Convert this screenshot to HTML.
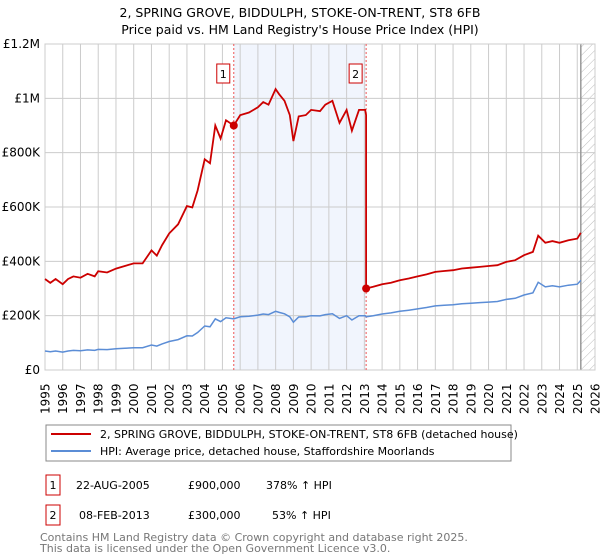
<!DOCTYPE html>
<html><head><meta charset="utf-8"><style>
body{margin:0;background:#fff;font-family:"DejaVu Sans","Liberation Sans",sans-serif;}
svg{display:block}
</style></head><body>
<svg id="chart" width="600" height="560" xmlns="http://www.w3.org/2000/svg" font-family="DejaVu Sans, Liberation Sans, sans-serif">
<text x="300" y="17" text-anchor="middle" font-size="12.5" fill="#000">2, SPRING GROVE, BIDDULPH, STOKE-ON-TRENT, ST8 6FB</text>
<text x="300" y="34" text-anchor="middle" font-size="12.5" fill="#000">Price paid vs. HM Land Registry's House Price Index (HPI)</text>
<defs><pattern id="hatch" width="6" height="6" patternUnits="userSpaceOnUse" patternTransform="rotate(45)"><line x1="0" y1="0" x2="0" y2="6" stroke="#bbb" stroke-width="1"/></pattern></defs>
<g id="plot"></g>
<g>
<rect x="46" y="425" width="465" height="36" fill="#fff" stroke="#888"/>
<line x1="51" y1="434" x2="91" y2="434" stroke="#cc0000" stroke-width="2"/>
<text x="100" y="438" font-size="11">2, SPRING GROVE, BIDDULPH, STOKE-ON-TRENT, ST8 6FB (detached house)</text>
<line x1="51" y1="451" x2="91" y2="451" stroke="#5b8dd6" stroke-width="2"/>
<text x="100" y="455" font-size="11">HPI: Average price, detached house, Staffordshire Moorlands</text>
</g>
<g font-size="11">
<rect x="46" y="475" width="14" height="20" fill="#fff" stroke="#cc0000"/>
<text x="53" y="489" text-anchor="middle">1</text>
<text x="76" y="489">22-AUG-2005</text>
<text x="188" y="489">£900,000</text>
<text x="266" y="489">378% ↑ HPI</text>
<rect x="46" y="505" width="14" height="20" fill="#fff" stroke="#cc0000"/>
<text x="53" y="519" text-anchor="middle">2</text>
<text x="79" y="519">08-FEB-2013</text>
<text x="188" y="519">£300,000</text>
<text x="272" y="519">53% ↑ HPI</text>
</g>
<text x="40" y="541" font-size="11" fill="#777">Contains HM Land Registry data © Crown copyright and database right 2025.</text>
<text x="40" y="552" font-size="11" fill="#777">This data is licensed under the Open Government Licence v3.0.</text>
</svg>
<script>
const hpiDates=[1995,1995.3,1995.6,1996,1996.3,1996.6,1997,1997.4,1997.8,1998,1998.5,1999,1999.5,2000,2000.5,2001,2001.3,2001.6,2002,2002.5,2003,2003.3,2003.6,2004,2004.3,2004.6,2004.9,2005.2,2005.64,2006,2006.5,2007,2007.3,2007.6,2008,2008.2,2008.5,2008.8,2009.0,2009.3,2009.7,2010,2010.5,2010.8,2011.2,2011.6,2012,2012.3,2012.7,2013.05,2013.1,2013.5,2014,2014.5,2015,2015.5,2016,2016.5,2017,2017.5,2018,2018.5,2019,2019.5,2020,2020.5,2021,2021.5,2022,2022.5,2022.8,2023.2,2023.6,2024,2024.5,2025,2025.2];
const hpiValues=[70,67,70,66,70,72,71,74,72,76,75,78,80,82,82,92,88,96,105,112,126,125,138,162,159,188,178,192,188,196,198,202,206,204,216,212,207,196,176,195,196,200,199,204,207,190,200,184,200,200,196,200,206,210,216,220,225,230,236,238,240,244,246,248,250,252,260,264,276,284,323,306,310,306,312,316,330];
const saleDates=[2005.64,2013.1];
const salePrices=[900,300];
const yTicks=[0,200,400,600,800,1000,1200];
const yTickLabels=["£0","£200K","£400K","£600K","£800K","£1M","£1.2M"];
const years=[1995,1996,1997,1998,1999,2000,2001,2002,2003,2004,2005,2006,2007,2008,2009,2010,2011,2012,2013,2014,2015,2016,2017,2018,2019,2020,2021,2022,2023,2024,2025,2026];

const X0=45,X1=595,Y0=370,Y1=44;
const xs=d=>X0+(d-1995)/(2026-1995)*(X1-X0);
const ys=v=>Y0-v/1200*(Y0-Y1);
const NS="http://www.w3.org/2000/svg";
const g=document.getElementById('plot');
function mk(t,a){const e=document.createElementNS(NS,t);for(const k in a)e.setAttribute(k,a[k]);g.appendChild(e);return e;}
function hpiAt(d){for(let i=1;i<hpiDates.length;i++){if(d<=hpiDates[i]){const t=(d-hpiDates[i-1])/(hpiDates[i]-hpiDates[i-1]);return hpiValues[i-1]+t*(hpiValues[i]-hpiValues[i-1]);}}return hpiValues[hpiValues.length-1];}

let r=mk('rect',{x:xs(saleDates[0]),y:Y1,width:xs(saleDates[1])-xs(saleDates[0]),height:Y0-Y1,fill:'#eef3fc',opacity:0.8});


let h=mk('rect',{x:xs(2025.2),y:Y1,width:X1-xs(2025.2),height:Y0-Y1,fill:'url(#hatch)'});


years.forEach((yr,i)=>{
  const l=mk('line',{x1:xs(yr),x2:xs(yr),y1:Y1,y2:Y0,stroke:'#ccc','stroke-width':1});
  
  
  const t=mk('text',{x:0,y:0,'font-size':12,transform:`translate(${xs(yr)+4.5},${Y0+44}) rotate(-90)`});
  t.textContent=yr;
  
  
});
yTicks.forEach((v,i)=>{
  const l=mk('line',{x1:X0,x2:X1,y1:ys(v),y2:ys(v),stroke:'#ccc','stroke-width':1});
  
  
  const t=mk('text',{x:X0-5,y:ys(v)+4,'font-size':12,'text-anchor':'end'});
  t.textContent=yTickLabels[i];
  
  
});
let dl=mk('line',{x1:xs(2025.2),x2:xs(2025.2),y1:Y1,y2:Y0,stroke:'#999','stroke-width':1.5});


let fr=mk('rect',{x:X0,y:Y1,width:X1-X0,height:Y0-Y1,fill:'none',stroke:'#ccc'});


saleDates.forEach((d,i)=>{
  const l=mk('line',{x1:xs(d),x2:xs(d),y1:Y1,y2:Y0,stroke:'#e55','stroke-width':1,'stroke-dasharray':'2,2'});
  
  
  const bx=mk('rect',{x:xs(d)-17,y:64,width:13,height:19,fill:'#fff',stroke:'#cc0000'});
  
  
  const t=mk('text',{x:xs(d)-10.5,y:78,'font-size':11,'text-anchor':'middle'});
  t.textContent=i+1;
  
  
});
let p='';hpiDates.forEach((d,i)=>{p+=(i?'L':'M')+xs(d).toFixed(1)+','+ys(hpiValues[i]).toFixed(1);});
let hl=mk('path',{d:p,fill:'none',stroke:'#5b8dd6','stroke-width':1.5});


let q='';
hpiDates.forEach((d,i)=>{
  let k=0;for(let j=0;j<saleDates.length;j++)if(d>=saleDates[j]-1e-9)k=j;
  if(i>0&&hpiDates[i-1]<saleDates[1]&&d>=saleDates[1]){q+='L'+xs(saleDates[1]).toFixed(1)+','+ys(salePrices[0]/hpiAt(saleDates[0])*hpiAt(saleDates[1])).toFixed(1);}
  const v=hpiValues[i]*salePrices[k]/hpiAt(saleDates[k]);
  q+=(i?'L':'M')+xs(d).toFixed(1)+','+ys(v).toFixed(1);
});
let pl=mk('path',{d:q,fill:'none',stroke:'#cc0000','stroke-width':1.8});


saleDates.forEach((d,i)=>{
  const c=mk('circle',{cx:xs(d),cy:ys(salePrices[i]),r:4,fill:'#cc0000'});
  
  
});
</script>
</body></html>
